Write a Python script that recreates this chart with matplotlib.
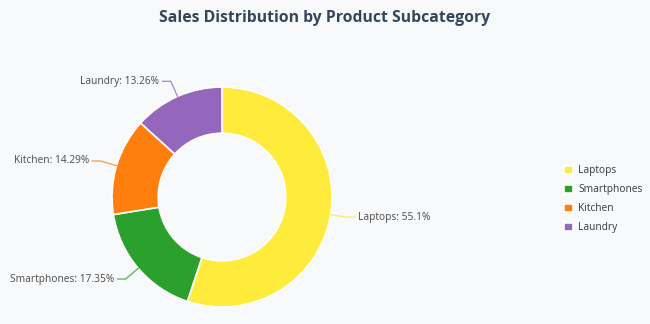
import matplotlib.pyplot as plt
import numpy as np

# data
labels = ['Laptops', 'Smartphones', 'Kitchen', 'Laundry']
shares = [55.1, 17.35, 14.29, 13.26]
share_text = ['55.1%', '17.35%', '14.29%', '13.26%']
colors = ['#ffeb3b', '#2ca02c', '#ff7f0e', '#9467bd']

bg = '#f8f9fb'
fig = plt.figure(figsize=(6.5, 3.24), dpi=100, facecolor=bg)

# square axes (in pixels) centred on the donut
cx, cy, R = 222, 324 - 197, 110
half = 1.3 * R
ax = fig.add_axes([(cx - half) / 650, (cy - half) / 324, 2 * half / 650, 2 * half / 324])

wedges, _ = ax.pie(shares, colors=colors, startangle=90, counterclock=False, radius=1.0,
                   wedgeprops=dict(width=0.42, edgecolor='white', linewidth=1.2))
ax.set_xlim(-1.3, 1.3)
ax.set_ylim(-1.3, 1.3)
ax.axis('off')

# labels with leader lines
for w, lab, txt, c in zip(wedges, labels, share_text, colors):
    ang = np.deg2rad((w.theta1 + w.theta2) / 2)
    x0, y0 = np.cos(ang), np.sin(ang)
    x1, y1 = 1.15 * x0, 1.15 * y0
    side = 1 if x0 >= 0 else -1
    x2 = x1 + side * 0.075
    ax.plot([x0, x1, x2], [y0, y1, y1], color=c, lw=0.9, alpha=0.8, clip_on=False)
    ax.text(x2 + side * 0.03, y1, f'{lab}: {txt}', ha='left' if side > 0 else 'right',
            va='center', fontsize=7.3, color='#555555', family='Noto Sans')

fig.legend(wedges, labels, loc='upper left', bbox_to_anchor=(555 / 650, 1 - 156 / 324),
           frameon=False, handlelength=0.85, handleheight=0.85, handletextpad=0.55,
           labelspacing=0.8, prop={'family': 'Noto Sans', 'size': 7.3}, labelcolor='#444444')

fig.text(0.5, 1 - 18 / 324, 'Sales Distribution by Product Subcategory', ha='center', va='center',
         fontsize=11.3, fontweight='bold', color='#34465a', family=['Open Sans', 'DejaVu Sans'])

fig.savefig('out.png', dpi=100, facecolor=bg)
